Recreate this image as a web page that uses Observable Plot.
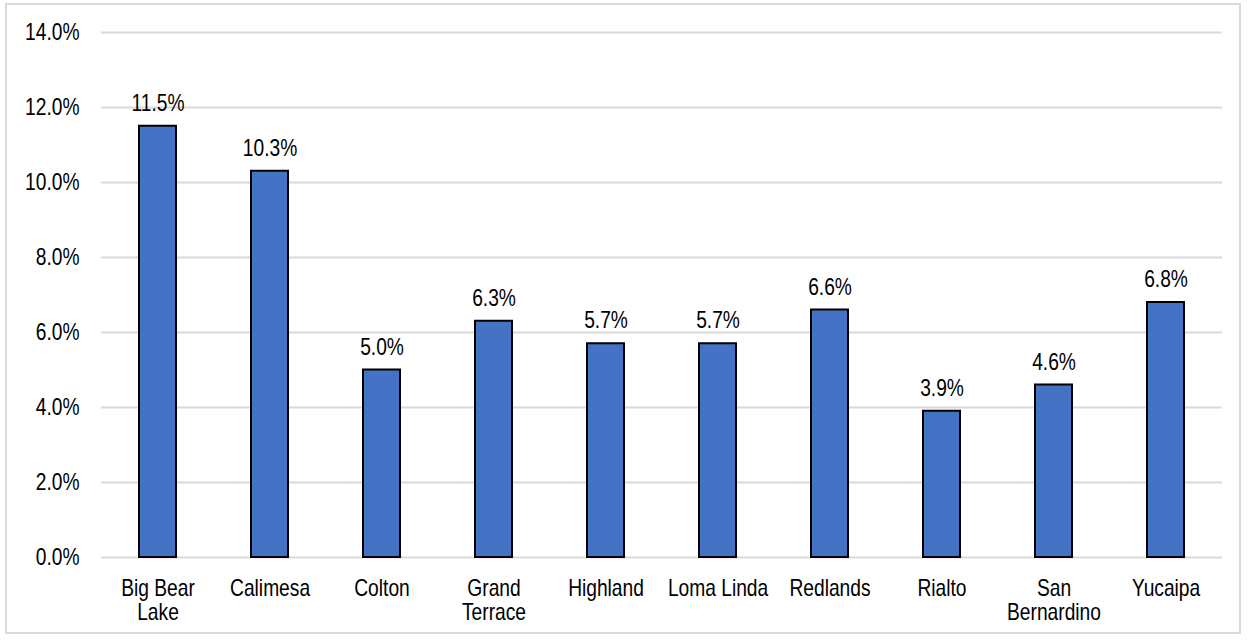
<!DOCTYPE html>
<html>
<head>
<meta charset="utf-8">
<script src="https://cdn.jsdelivr.net/npm/d3@7"></script>
<script src="https://cdn.jsdelivr.net/npm/@observablehq/plot@0.6"></script>
<style>
  html, body { margin: 0; padding: 0; background: #fff; }
  #chart { position: relative; width: 1248px; height: 641px; }
  #frame { position: absolute; left: 5px; top: 3px; width: 1236px; height: 631px; border: 2px solid #d9d9d9; box-sizing: border-box; pointer-events: none; }
</style>
</head>
<body>
<div id="chart"><div id="frame"></div></div>
<script>
const cities = ["Big Bear Lake", "Calimesa", "Colton", "Grand Terrace", "Highland", "Loma Linda", "Redlands", "Rialto", "San Bernardino", "Yucaipa"];
const rates = [0.115, 0.103, 0.050, 0.063, 0.057, 0.057, 0.066, 0.039, 0.046, 0.068];
const cityLabels = ["Big Bear\nLake", "Calimesa", "Colton", "Grand\nTerrace", "Highland", "Loma Linda", "Redlands", "Rialto", "San\nBernardino", "Yucaipa"];
const yTicks = [0, 0.02, 0.04, 0.06, 0.08, 0.10, 0.12, 0.14];

const data = cities.map((c, i) => ({city: c, rate: rates[i]}));
const labelOf = new Map(cities.map((c, i) => [c, cityLabels[i]]));
const FONT = "'Liberation Sans', Arial, sans-serif";
const FS = 24;
const SQUEEZE = 0.8;

const chart = Plot.plot({
  width: 1248,
  height: 641,
  marginLeft: 101,
  marginRight: 26,
  marginTop: 32,
  marginBottom: 84,
  style: {fontFamily: FONT, fontSize: FS + "px", color: "#000", background: "transparent"},
  x: {domain: cities, paddingInner: 0.67, paddingOuter: 0.335, label: null, tickSize: 0, tickPadding: 21, tickFormat: d => labelOf.get(d)},
  y: {domain: [0, 0.14], ticks: yTicks, tickFormat: d3.format(".1%"), label: null, tickSize: 0, tickPadding: 22},
  marks: [
    Plot.ruleY(yTicks, {stroke: "#d9d9d9", strokeWidth: 2}),
    Plot.barY(data, {x: "city", y: "rate", fill: "#4472C4", stroke: "#000", strokeWidth: 2}),
    Plot.text(data, {x: "city", y: "rate", text: d => d3.format(".1%")(d.rate), dy: -23, fill: "#000", fontSize: FS})
  ]
});
document.getElementById("chart").prepend(chart);

// Narrow the glyphs horizontally (the reference uses a condensed sans face)
chart.querySelectorAll("text").forEach(t => {
  t.setAttribute("font-size", FS);
  const b = t.getBBox();
  const anchor = getComputedStyle(t).textAnchor;
  const ax = anchor === "end" ? b.x + b.width : anchor === "start" ? b.x : b.x + b.width / 2;
  const orig = t.getAttribute("transform") || "";
  t.setAttribute("transform", `${orig} translate(${ax},0) scale(${SQUEEZE},1) translate(${-ax},0)`.trim());
});
</script>
</body>
</html>
